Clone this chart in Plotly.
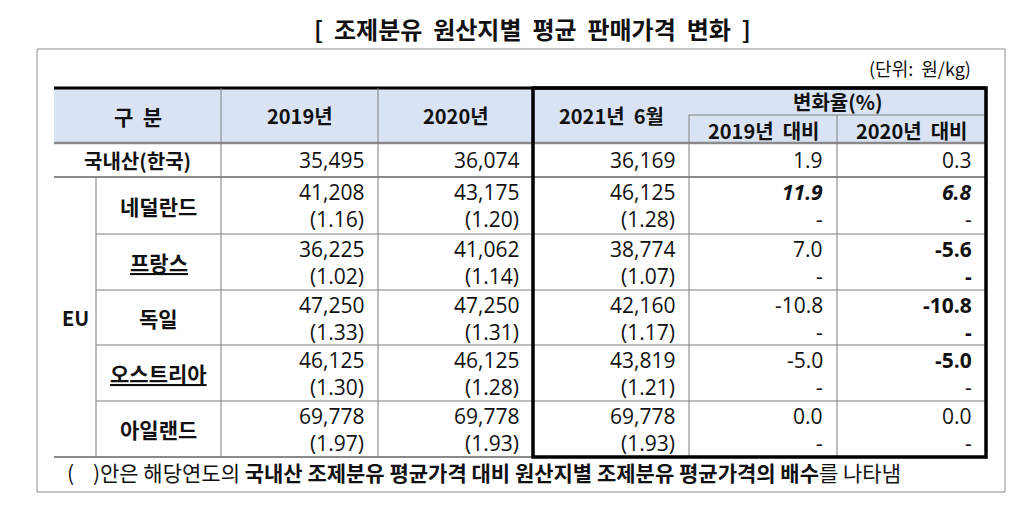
"""Table figure: 조제분유 원산지별 평균 판매가격 변화 (drawn with shapes + annotations)."""

import plotly.graph_objects as go

# ---- data ---------------------------------------------------------------
title = "[  조제분유  원산지별  평균  판매가격  변화  ]"
unit = "(단위:  원/kg)"

korea_label = "국내산(한국)"
korea_price = [35495, 36074, 36169]
korea_change = [1.9, 0.3]

countries = ["네덜란드", "프랑스", "독일", "오스트리아", "아일랜드"]
price_2019 = [41208, 36225, 47250, 46125, 69778]
price_2020 = [43175, 41062, 47250, 46125, 69778]
price_2021_06 = [46125, 38774, 42160, 43819, 69778]
ratio_2019 = [1.16, 1.02, 1.33, 1.30, 1.97]
ratio_2020 = [1.20, 1.14, 1.31, 1.28, 1.93]
ratio_2021_06 = [1.28, 1.07, 1.17, 1.21, 1.93]
change_vs_2019 = [11.9, 7.0, -10.8, -5.0, 0.0]
change_vs_2020 = [6.8, -5.6, -10.8, -5.0, 0.0]

# ---- styling (emphasis as in the source) --------------------------------
underline_country = [False, True, False, True, False]
style_vs_2019 = ["bi", "", "", "", ""]
style_vs_2020 = ["bi", "b", "b", "b", ""]
dash_bold_vs_2020 = [False, True, True, False, False]

FONT = "Noto Sans CJK KR, Malgun Gothic, sans-serif"
NUM_FONT = "Open Sans, Noto Sans CJK KR, sans-serif"
INK = "#111111"
GRID = "#7f7f7f"
HEAD_FILL = "#dae3f3"
FS = 20
NS = 21

# column edges and row edges (pixels)
X_LEFT, X_EU, X_NAME, X_19, X_20, X_21, X_V19, X_V20 = 54, 96, 221, 378, 533, 689, 837, 986
Y_HEAD_TOP, Y_SUB, Y_HEAD_BOT = 88, 115, 143
row_edges = [143, 177, 234, 290, 345, 401, 457]
PAD = 12

fig = go.Figure()
shapes = []
ann = []


def sp(s):
    return s.replace(" ", "\u00a0")


def line(x0, y0, x1, y1, color=GRID, width=1):
    shapes.append(dict(type="line", x0=x0, y0=y0, x1=x1, y1=y1,
                       line=dict(color=color, width=width), layer="above"))


def text(x, y, s, anchor="center", size=FS, color=INK, family=FONT):
    ann.append(dict(x=x, y=y, text=s, showarrow=False, xanchor=anchor, yanchor="middle",
                    font=dict(family=family, size=size, color=color)))


def num(x, y, s):
    text(x, y, s, anchor="right", size=NS, family=NUM_FONT)


def styled(s, st):
    if "i" in st:
        s = f"<i>{s}</i>"
    if "b" in st:
        s = f"<b>{s}</b>"
    return s


# outer frame
shapes.append(dict(type="rect", x0=37, y0=49, x1=1005, y1=492,
                   line=dict(color="#8c8c8c", width=1), layer="below"))
# header fill
shapes.append(dict(type="rect", x0=X_LEFT, y0=Y_HEAD_TOP, x1=X_V20, y1=Y_HEAD_BOT,
                   fillcolor=HEAD_FILL, line=dict(width=0), layer="below"))

# horizontal rules
line(X_LEFT, Y_HEAD_TOP, X_V20, Y_HEAD_TOP, color="#000000", width=3)
line(X_21, Y_SUB, X_V20, Y_SUB)
line(X_LEFT, Y_HEAD_BOT, X_V20, Y_HEAD_BOT, color="#8a8a8a", width=2.5)
line(X_LEFT, row_edges[1], X_V20, row_edges[1], color="#8a8a8a", width=2)
for y in row_edges[2:-1]:
    line(X_EU, y, X_V20, y)
line(X_LEFT, row_edges[-1], X_V20, row_edges[-1], color="#8a8a8a", width=2)

# vertical rules
line(X_EU, row_edges[1], X_EU, row_edges[-1])
for x in (X_NAME, X_19):
    line(x, Y_HEAD_TOP, x, row_edges[-1])
line(X_V19, Y_SUB, X_V19, row_edges[-1])
line(X_21, Y_SUB, X_21, row_edges[-1])

# thick box around 2021 / change columns
shapes.append(dict(type="rect", x0=X_20, y0=Y_HEAD_TOP, x1=X_V20, y1=row_edges[-1],
                   line=dict(color="#000000", width=3.5), layer="above"))

# titles
text(532, 28, f"<b>{sp(title)}</b>", size=24)
text(973, 68, sp(unit), anchor="right", size=18)

# header
hy = (Y_HEAD_TOP + Y_HEAD_BOT) / 2
text((X_LEFT + X_NAME) / 2, hy, "<b>구\u00a0\u00a0분</b>", size=21)
text((X_NAME + X_19) / 2, hy, "<b>2019년</b>")
text((X_19 + X_20) / 2, hy, "<b>2020년</b>")
text((X_20 + X_21) / 2, hy, "<b>2021년\u00a0\u00a06월</b>")
text((X_21 + X_V20) / 2, 101, "<b>변화율(%)</b>")
text((X_21 + X_V19) / 2, 130, "<b>2019년\u00a0\u00a0대비</b>")
text((X_V19 + X_V20) / 2, 130, "<b>2020년\u00a0\u00a0대비</b>")

# domestic row
ky = (row_edges[0] + row_edges[1]) / 2
text((X_LEFT + X_NAME) / 2, ky, f"<b>{korea_label}</b>")
for xr, v in zip((X_19, X_20, X_21), korea_price):
    num(xr - PAD, ky, f"{v:,}")
num(X_V19 - PAD, ky, f"{korea_change[0]:.1f}")
num(X_V20 - PAD, ky, f"{korea_change[1]:.1f}")

# EU rows
text((X_LEFT + X_EU) / 2, (row_edges[1] + row_edges[-1]) / 2, "<b>EU</b>")
for i, name in enumerate(countries):
    top, bot = row_edges[i + 1], row_edges[i + 2]
    y1, y2 = top + 15, top + 42
    label = f"<u>{name}</u>" if underline_country[i] else name
    text((X_EU + X_NAME) / 2, (top + bot) / 2, f"<b>{label}</b>", size=21)
    for xr, p, r in ((X_19, price_2019[i], ratio_2019[i]),
                     (X_20, price_2020[i], ratio_2020[i]),
                     (X_21, price_2021_06[i], ratio_2021_06[i])):
        num(xr - PAD, y1, f"{p:,}")
        num(xr - PAD, y2, f"({r:.2f})")
    num(X_V19 - PAD, y1, styled(f"{change_vs_2019[i]:.1f}", style_vs_2019[i]))
    num(X_V19 - PAD, y2, "-")
    num(X_V20 - PAD, y1, styled(f"{change_vs_2020[i]:.1f}", style_vs_2020[i]))
    num(X_V20 - PAD, y2, "<b>-</b>" if dash_bold_vs_2020[i] else "-")

# footnote
text(65, 472,
     sp("(    )안은 해당연도의 ") + "<b>" + sp("국내산 조제분유 평균가격 대비 원산지별 조제분유 평균가격의 배수")
     + "</b>" + sp("를 나타냄"),
     anchor="left", size=21)

fig.update_layout(
    width=1024, height=511,
    margin=dict(l=0, r=0, t=0, b=0),
    paper_bgcolor="white", plot_bgcolor="white",
    xaxis=dict(range=[0, 1024], visible=False, fixedrange=True),
    yaxis=dict(range=[511, 0], visible=False, fixedrange=True),
    shapes=shapes, annotations=ann, showlegend=False,
)

fig.write_html("out.html", config={"displayModeBar": False},
               post_script="document.body.style.margin='0';document.body.style.overflow='hidden';")
